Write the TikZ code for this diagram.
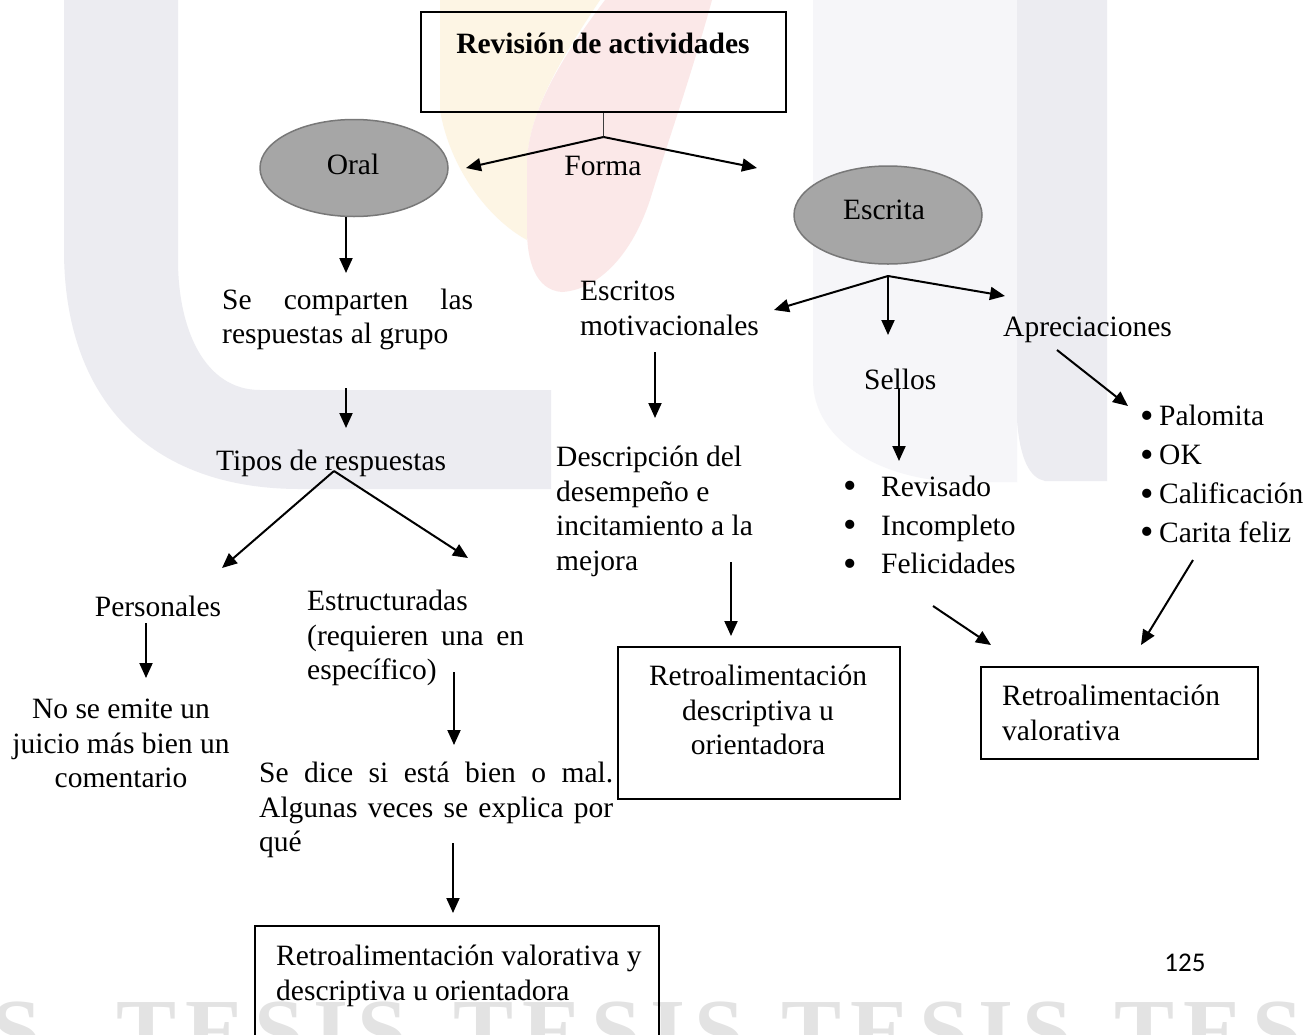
\documentclass[tikz,border=0pt]{standalone}
\usepackage{fontspec}
\setmainfont{Liberation Serif}
\newfontfamily\pagenofont{Carlito}
\usetikzlibrary{arrows.meta,shapes.geometric}

% watermark tones
\definecolor{wmgray}{RGB}{236,236,241}
\definecolor{wmlight}{RGB}{246,246,249}
\definecolor{wmyellow}{RGB}{253,245,228}
\definecolor{wmpink}{RGB}{251,232,232}
\definecolor{wmtext}{RGB}{227,227,227}
% diagram tones
\definecolor{ovalfill}{RGB}{166,166,166}
\definecolor{ovaledge}{RGB}{120,120,120}
\definecolor{stemgray}{RGB}{60,60,60}

\newcommand\dgbody{\fontsize{29.5}{34.5}\selectfont}
\newcommand\dglist{\fontsize{29.5}{38.8}\selectfont}
\newcommand\wmfont{\fontsize{90}{90}\selectfont\bfseries}
\newcommand\dgbullet{\raisebox{-2.5pt}{\scalebox{1.3}{•}}}

\begin{document}
\begin{tikzpicture}[x=1pt,y=-1pt,
  txt/.style={inner sep=0pt, font=\dgbody},
  para/.style={inner sep=0pt, font=\dgbody, align=left, anchor=north west},
  arr/.style={line width=2pt, -{Triangle[length=15pt,width=13pt]}},
  box/.style={draw, line width=2pt, rectangle, inner sep=0pt},
  oval/.style={ellipse, draw=ovaledge, fill=ovalfill, line width=1.5pt,
    inner sep=0pt, minimum width=188pt, minimum height=97pt},
  wm/.style={anchor=base west, inner sep=0pt, text=wmtext, font=\wmfont},
]
\useasboundingbox (0,0) rectangle (1303,1034);
\clip (0,0) rectangle (1303,1034);
\fill[white] (0,0) rectangle (1303,1034);

% ---- background watermark ----
\fill[wmyellow] (440,0) -- (600,0) .. controls (560,60) and (530,110) .. (527,160)
  -- (527,240) .. controls (490,220) and (450,170) .. (440,110) -- cycle;
\fill[wmpink] (605,0) -- (712,0) .. controls (690,80) and (665,150) .. (650,200)
  .. controls (630,260) and (595,290) .. (562,292)
  .. controls (535,290) and (527,260) .. (527,230) -- (527,160)
  .. controls (530,110) and (560,60) .. (605,0) -- cycle;
\fill[wmgray] (64,0) -- (64,250) .. controls (64,400) and (150,489) .. (300,489)
  -- (551,489) -- (551,390) -- (260,390) .. controls (205,390) and (178,330) .. (178,260)
  -- (178,0) -- cycle;
\fill[wmlight] (813,0) -- (813,380) .. controls (813,440) and (880,480) .. (960,482)
  -- (1017,482) -- (1017,0) -- cycle;
\fill[wmgray] (1017,0) -- (1017,420) .. controls (1020,460) and (1030,478) .. (1045,481)
  -- (1107,481) -- (1107,0) -- cycle;
\foreach \wx [count=\i] in {-250,116,453,781,1114}
  \node[wm, name=wm\i] at (\wx,1061) {T\hspace{9pt}E\hspace{9pt}S\hspace{9pt}I\hspace{9pt}S};

% ---- top ----
\node[box, minimum width=365pt, minimum height=100pt] (title) at (603.5,62) {};
\node[txt, anchor=base, font=\dgbody\bfseries] (titletxt) at (603,53) {Revisión de actividades};
\coordinate (fork) at (603.5,137);
\coordinate (forkL) at (466,168);
\coordinate (forkR) at (757,168);
\draw[line width=1.2pt, draw=stemgray] (title.south) -- (fork);
\draw[arr] (fork) -- (forkL);
\draw[arr] (fork) -- (forkR);
\node[txt, anchor=base] (forma) at (603,175) {Forma};

\node[oval] (oral) at (354,168) {};
\node[txt, anchor=base] (oraltxt) at (353,174) {Oral};
\node[oval, minimum height=98pt] (escrita) at (888,215) {};
\node[txt, anchor=base] (escritatxt) at (884,219.5) {Escrita};

% ---- oral branch ----
\coordinate (c1) at (346,273);
\draw[arr] (oral.south -| c1) -- (c1);
\node[para] (comparten) at (222,285)
  {\hbox to 251pt{\strut Se\hfill comparten\hfill las}\\\strut respuestas al grupo};
\coordinate (c2s) at (346,388);
\coordinate (c2) at (346,428);
\draw[arr] (c2s) -- (c2);
\node[txt, anchor=base west] (tipos) at (216,470) {Tipos de respuestas};
\coordinate (tfork) at (334,471);
\coordinate (tL) at (222,568);
\coordinate (tR) at (468,558);
\draw[arr] (tfork) -- (tL);
\draw[arr] (tfork) -- (tR);

\node[txt, anchor=base] (personales) at (158,616) {Personales};
\coordinate (p1s) at (146,623);
\coordinate (p1) at (146,678);
\draw[arr] (p1s) -- (p1);
\node[txt, align=center, anchor=north] (noemite) at (121,694.5)
  {\strut No se emite un\\\strut juicio más bien un\\\strut comentario};

\node[para] (estruct) at (307,586.5)
  {\strut Estructuradas\\\hbox to 217pt{\strut (requieren\hfill una\hfill en}\\\strut específico)};
\coordinate (e1s) at (454,672);
\coordinate (e1) at (454,745);
\draw[arr] (e1s) -- (e1);
\node[para] (sedice) at (259,758.5)
  {\hbox to 354pt{\strut Se\hfill dice\hfill si\hfill está\hfill bien\hfill o\hfill mal.}\\
   \hbox to 354pt{\strut Algunas\hfill veces\hfill se\hfill explica\hfill por}\\\strut qué};
\coordinate (s1s) at (453,843);
\coordinate (s1) at (453,913);
\draw[arr] (s1s) -- (s1);
\node[box, anchor=north west, minimum width=404pt, minimum height=130pt] (fbmix) at (254,925) {};
\node[para] (fbmixtxt) at (276,941.5)
  {\strut Retroalimentación valorativa y\\\strut descriptiva u orientadora};

% ---- escrita branch ----
\coordinate (efork) at (888,276);
\coordinate (eL) at (774,310);
\coordinate (eD) at (888,335);
\coordinate (eR) at (1005,296);
\draw[arr] (efork) -- (eL);
\draw[arr] (efork) -- (eD);
\draw[arr] (efork) -- (eR);

\node[para] (escritos) at (580,276.5) {\strut Escritos\\\strut motivacionales};
\coordinate (m1s) at (655,352);
\coordinate (m1) at (655,418);
\draw[arr] (m1s) -- (m1);
\node[para] (descrip) at (556,442.5)
  {\strut Descripción del\\\strut desempeño e\\\strut incitamiento a la\\\strut mejora};
\coordinate (d1s) at (731,562);
\coordinate (d1) at (731,636);
\draw[arr] (d1s) -- (d1);
\node[box, anchor=north west, minimum width=282pt, minimum height=152pt] (fbdesc) at (617,646) {};
\node[txt, align=center, anchor=north] (fbdesctxt) at (758,661.5)
  {\strut Retroalimentación\\\strut descriptiva u\\\strut orientadora};

\node[txt, anchor=base west] (sellos) at (864,389) {Sellos};
\coordinate (sl1s) at (899,389);
\coordinate (sl1) at (899,461);
\draw[arr] (sl1s) -- (sl1);
\node[para, font=\dglist] (sellolist) at (843,469)
  {\strut\makebox[38pt][l]{\dgbullet}Revisado\\\strut\makebox[38pt][l]{\dgbullet}Incompleto\\\strut\makebox[38pt][l]{\dgbullet}Felicidades};

\node[txt, anchor=base west] (aprec) at (1003,336) {Apreciaciones};
\coordinate (ap1s) at (1057,350);
\coordinate (ap1) at (1128,406);
\draw[arr] (ap1s) -- (ap1);
\node[para, font=\dglist] (aplist) at (1140,398.6)
  {\strut\makebox[19pt][l]{\dgbullet}Palomita\\\strut\makebox[19pt][l]{\dgbullet}OK\\\strut\makebox[19pt][l]{\dgbullet}Calificación\\\strut\makebox[19pt][l]{\dgbullet}Carita feliz};

\coordinate (fe1s) at (933,606);
\coordinate (fe1) at (991,645);
\draw[arr] (fe1s) -- (fe1);
\coordinate (ca1s) at (1193,560);
\coordinate (ca1) at (1141,645);
\draw[arr] (ca1s) -- (ca1);
\node[box, anchor=north west, minimum width=277pt, minimum height=92pt] (fbval) at (980,666) {};
\node[para] (fbvaltxt) at (1002,681.5) {\strut Retroalimentación\\\strut valorativa};

\node[inner sep=0pt, font=\pagenofont\fontsize{27}{30}\selectfont] (pageno) at (1185,963) {125};
\end{tikzpicture}
\end{document}
